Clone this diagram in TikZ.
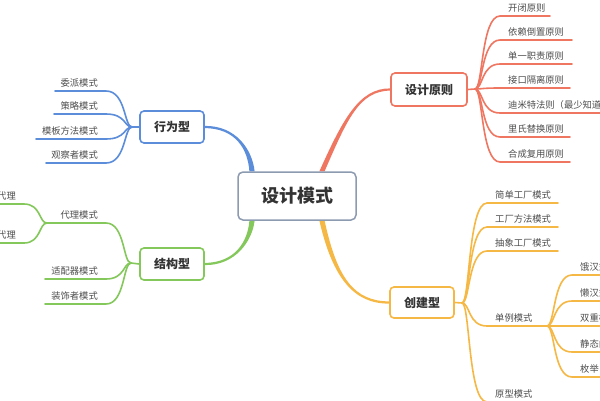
\documentclass[tikz,border=0pt]{standalone}
\usepackage{fontspec}
\setmainfont{Noto Sans CJK SC}
\usetikzlibrary{calc,backgrounds}
\definecolor{cred}{HTML}{EF7762}
\definecolor{cblue}{HTML}{5B8DDA}
\definecolor{cgreen}{HTML}{84C85C}
\definecolor{corange}{HTML}{F6B844}
\definecolor{cgray}{HTML}{8D9BB0}
\definecolor{ctext}{HTML}{333333}
\definecolor{csub}{HTML}{4D4D4D}
\tikzset{
  boxnode/.style={draw, fill=white, rounded corners=4pt, line width=1.6pt, minimum height=32pt, inner sep=0pt, text=ctext, font=\fontsize{12}{12}\selectfont\bfseries},
  leaf/.style={inner sep=0pt, text=csub, font=\fontsize{9.3}{10}\selectfont},
  br/.style={line width=1.6pt, line cap=round},
}
% right leaf: color, hub, hubx, uy, curve end x, line end x, name, text
\newcommand\rleaf[8]{%
  \coordinate (#7a) at (#5,#4);
  \coordinate (#7b) at (#6,#4);
  \node[leaf, anchor=base west] (#7) at (#5+8,#4-5) {#8};
  \draw[br,#1] (#2) .. controls ($(#2)+(8,0)$) and (#3+6,#4) .. (#7a) -- (#7b);
}
\newcommand\lleaf[8]{%
  \coordinate (#7a) at (#5,#4);
  \coordinate (#7b) at (#6,#4);
  \node[leaf, anchor=base east] (#7) at (#5-8,#4-5) {#8};
  \draw[br,#1] (#2) .. controls ($(#2)+(-8,0)$) and (#3-6,#4) .. (#7a) -- (#7b);
}
\begin{document}
\begin{tikzpicture}[x=1pt,y=-1pt]
\useasboundingbox (0,0) rectangle (600,400);
\begin{scope}[on background layer]
  \fill[white] (0,0) rectangle (600,400);
\end{scope}

% central node
\node[draw=cgray, fill=white, rounded corners=5pt, line width=1.5pt, minimum width=118pt, minimum height=48pt, inner sep=0pt, font=\fontsize{18}{18}\selectfont\bfseries, text=ctext] (root) at (297,196) {设计模式};

% first level boxes
\node[boxnode, draw=cred, minimum width=76pt, minimum height=33pt] (yz) at (429,89.5) {设计原则};
\node[boxnode, draw=corange, minimum width=64pt, minimum height=31pt] (cj) at (422,302.5) {创建型};
\node[boxnode, draw=cblue, minimum width=64pt] (xw) at (172,127) {行为型};
\node[boxnode, draw=cgreen, minimum width=64pt] (jg) at (172,264) {结构型};

% main connectors (tapered)
\begin{scope}[on background layer]
  \fill[cred] ($(root.north)+(22.4,0)$) .. controls ($(root.north)+(45.8,-52)$) and ($(yz.west)+(-31,-1.4)$) .. ($(yz.west)+(0,-1.1)$)
     -- ($(yz.west)+(0,1.1)$) .. controls ($(yz.west)+(-31,1.4)$) and ($(root.north)+(50.2,-52)$) .. ($(root.north)+(27.6,0)$) -- cycle;
  \fill[corange] ($(root.south)+(22.4,0)$) .. controls ($(root.south)+(35.8,58)$) and ($(cj.west)+(-35,1.4)$) .. ($(cj.west)+(0,1.1)$)
     -- ($(cj.west)+(0,-1.1)$) .. controls ($(cj.west)+(-35,-1.4)$) and ($(root.south)+(40.2,58)$) .. ($(root.south)+(27.6,0)$) -- cycle;
  \fill[cblue] ($(root.north)+(-47.6,0)$) .. controls ($(root.north)+(-49.2,-22)$) and ($(xw.east)+(31,1.4)$) .. ($(xw.east)+(0,1.1)$)
     -- ($(xw.east)+(0,-1.1)$) .. controls ($(xw.east)+(31,-1.4)$) and ($(root.north)+(-44.8,-22)$) .. ($(root.north)+(-42.4,0)$) -- cycle;
  \fill[cgreen] ($(root.south)+(-47.6,0)$) .. controls ($(root.south)+(-49.2,20)$) and ($(jg.east)+(31,-1.4)$) .. ($(jg.east)+(0,-1.1)$)
     -- ($(jg.east)+(0,1.1)$) .. controls ($(jg.east)+(31,1.4)$) and ($(root.south)+(-44.8,20)$) .. ($(root.south)+(-42.4,0)$) -- cycle;
\end{scope}

% hubs
\coordinate (hR) at (475,89);
\coordinate (hC) at (462,303);
\coordinate (hB) at (132,127);
\coordinate (hG) at (131,263);
\draw[br,cred] (yz.east) -- (hR);
\draw[br,corange] (cj.east) -- (hC);
\draw[br,cblue] (xw.west) -- (hB);
\draw[br,cgreen] (jg.west) -- (hG);

% design principles
\rleaf{cred}{hR}{475}{16}{500}{550}{r1}{开闭原则}
\rleaf{cred}{hR}{475}{40}{500}{572}{r2}{依赖倒置原则}
\rleaf{cred}{hR}{475}{64}{500}{572}{r3}{单一职责原则}
\rleaf{cred}{hR}{475}{88}{500}{570}{r4}{接口隔离原则}
\rleaf{cred}{hR}{475}{113}{500}{610}{r5}{迪米特法则（最少知道原则）}
\rleaf{cred}{hR}{475}{137}{500}{570}{r6}{里氏替换原则}
\rleaf{cred}{hR}{475}{162}{500}{570}{r7}{合成复用原则}

% creational
\rleaf{corange}{hC}{462}{203}{487}{558}{c1}{简单工厂模式}
\rleaf{corange}{hC}{462}{227}{487}{558}{c2}{工厂方法模式}
\rleaf{corange}{hC}{462}{251}{487}{558}{c3}{抽象工厂模式}
\rleaf{corange}{hC}{462}{326}{487}{547}{c4}{单例模式}
\rleaf{corange}{hC}{462}{402}{487}{560}{c5}{原型模式}
% singleton
\rleaf{corange}{c4b}{547}{275}{572}{610}{s1}{饿汉式}
\rleaf{corange}{c4b}{547}{301}{572}{610}{s2}{懒汉式}
\rleaf{corange}{c4b}{547}{326}{572}{610}{s3}{双重检查锁}
\rleaf{corange}{c4b}{547}{352}{572}{610}{s4}{静态内部类}
\rleaf{corange}{c4b}{547}{377}{572}{610}{s5}{枚举}

% behavioural
\lleaf{cblue}{hB}{132}{91}{106}{55}{b1}{委派模式}
\lleaf{cblue}{hB}{132}{114}{106}{54}{b2}{策略模式}
\lleaf{cblue}{hB}{132}{139}{106}{36}{b3}{模板方法模式}
\lleaf{cblue}{hB}{132}{163}{106}{46}{b4}{观察者模式}

% structural
\lleaf{cgreen}{hG}{131}{223}{106}{47}{g1}{代理模式}
\lleaf{cgreen}{hG}{131}{279}{106}{45}{g2}{适配器模式}
\lleaf{cgreen}{hG}{131}{304}{106}{45}{g3}{装饰者模式}
% proxy
\lleaf{cgreen}{g1b}{47}{204}{24}{-10}{p1}{静态代理}
\lleaf{cgreen}{g1b}{47}{243}{24}{-10}{p2}{动态代理}
\end{tikzpicture}
\end{document}
